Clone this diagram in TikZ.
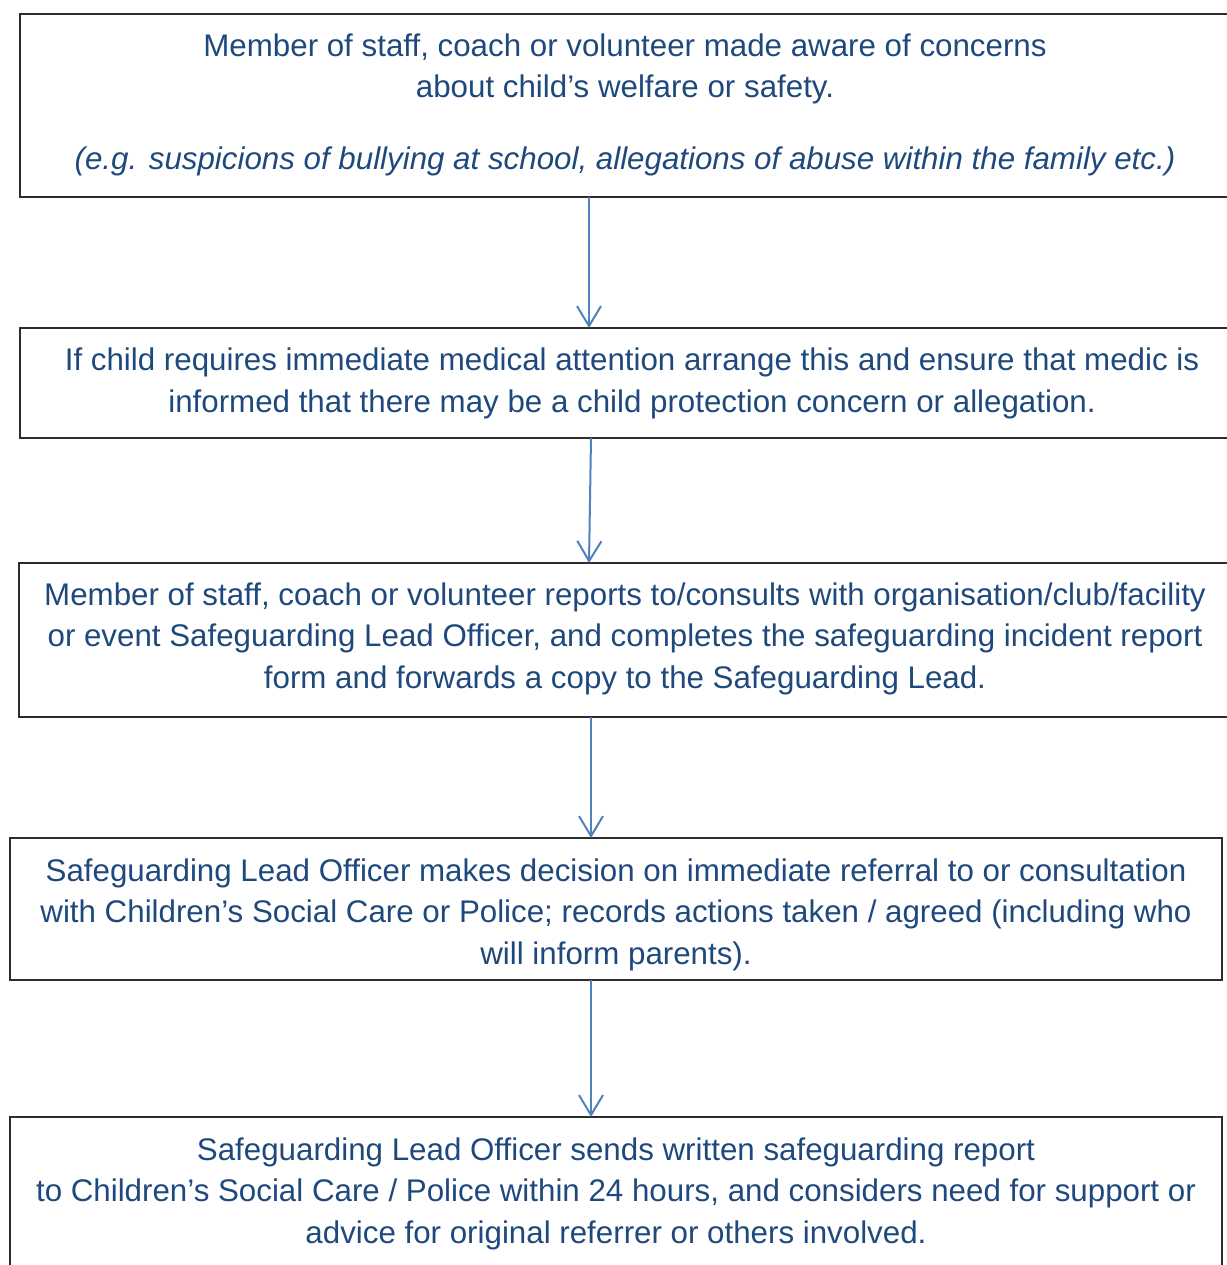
\documentclass[tikz,border=0pt]{standalone}
\usepackage{fontspec}
\setmainfont{Liberation Sans}
\usetikzlibrary{arrows.meta}
\definecolor{txtblue}{RGB}{31,73,125}
\definecolor{arrblue}{RGB}{79,129,189}
\definecolor{boxline}{RGB}{45,45,45}
\tikzset{
  stepbox/.style={draw=boxline, line width=2.2pt, rectangle, anchor=north west, inner sep=0pt, outer sep=0pt},
  steptext/.style={text=txtblue, align=center, inner sep=0pt, font=\fontsize{31.3}{41.5}\selectfont},
  flow/.style={draw=arrblue, line width=2pt, -{Straight Barb[length=20pt,width=24pt]}}
}
\begin{document}
\begin{tikzpicture}[x=1pt,y=-1pt]
\useasboundingbox (0,0) rectangle (1226,1265);
% boxes
\node[stepbox, minimum width=1230, minimum height=183] (a) at (20,14) {};
\node[stepbox, minimum width=1230, minimum height=110] (b) at (20,328) {};
\node[stepbox, minimum width=1230, minimum height=154] (c) at (19,563) {};
\node[stepbox, minimum width=1212, minimum height=142] (d) at (10,838) {};
\node[stepbox, minimum width=1212, minimum height=180] (e) at (10,1117) {};
% texts
\node[steptext] (ta) at (625,104.5) {Member of staff, coach or volunteer made aware of concerns\\ about child’s welfare or safety.\\[30pt] \textit{(e.g. suspicions of bullying at school, allegations of abuse within the family etc.)}};
\node[steptext] (tb) at (632,383.5) {If child requires immediate medical attention arrange this and ensure that medic is\\ informed that there may be a child protection concern or allegation.};
\node[steptext] (tc) at (625,638.5) {Member of staff, coach or volunteer reports to/consults with organisation/club/facility\\ or event Safeguarding Lead Officer, and completes the safeguarding incident report\\ form and forwards a copy to the Safeguarding Lead.};
\node[steptext] (td) at (616,914.5) {Safeguarding Lead Officer makes decision on immediate referral to or consultation\\ with Children’s Social Care or Police; records actions taken / agreed (including who\\ will inform parents).};
\node[steptext] (te) at (616,1193.5) {Safeguarding Lead Officer sends written safeguarding report\\ to Children’s Social Care / Police within 24 hours, and considers need for support or\\ advice for original referrer or others involved.};
% connector x positions
\coordinate (x1) at (589,0);
\coordinate (x2) at (591,0);
% connectors
\draw[flow] (a.south -| x1) -- (b.north -| x1);
\draw[flow] (b.south -| x2) -- (c.north -| x1);
\draw[flow] (c.south -| x2) -- (d.north -| x2);
\draw[flow] (d.south -| x2) -- (e.north -| x2);
\end{tikzpicture}
\end{document}
